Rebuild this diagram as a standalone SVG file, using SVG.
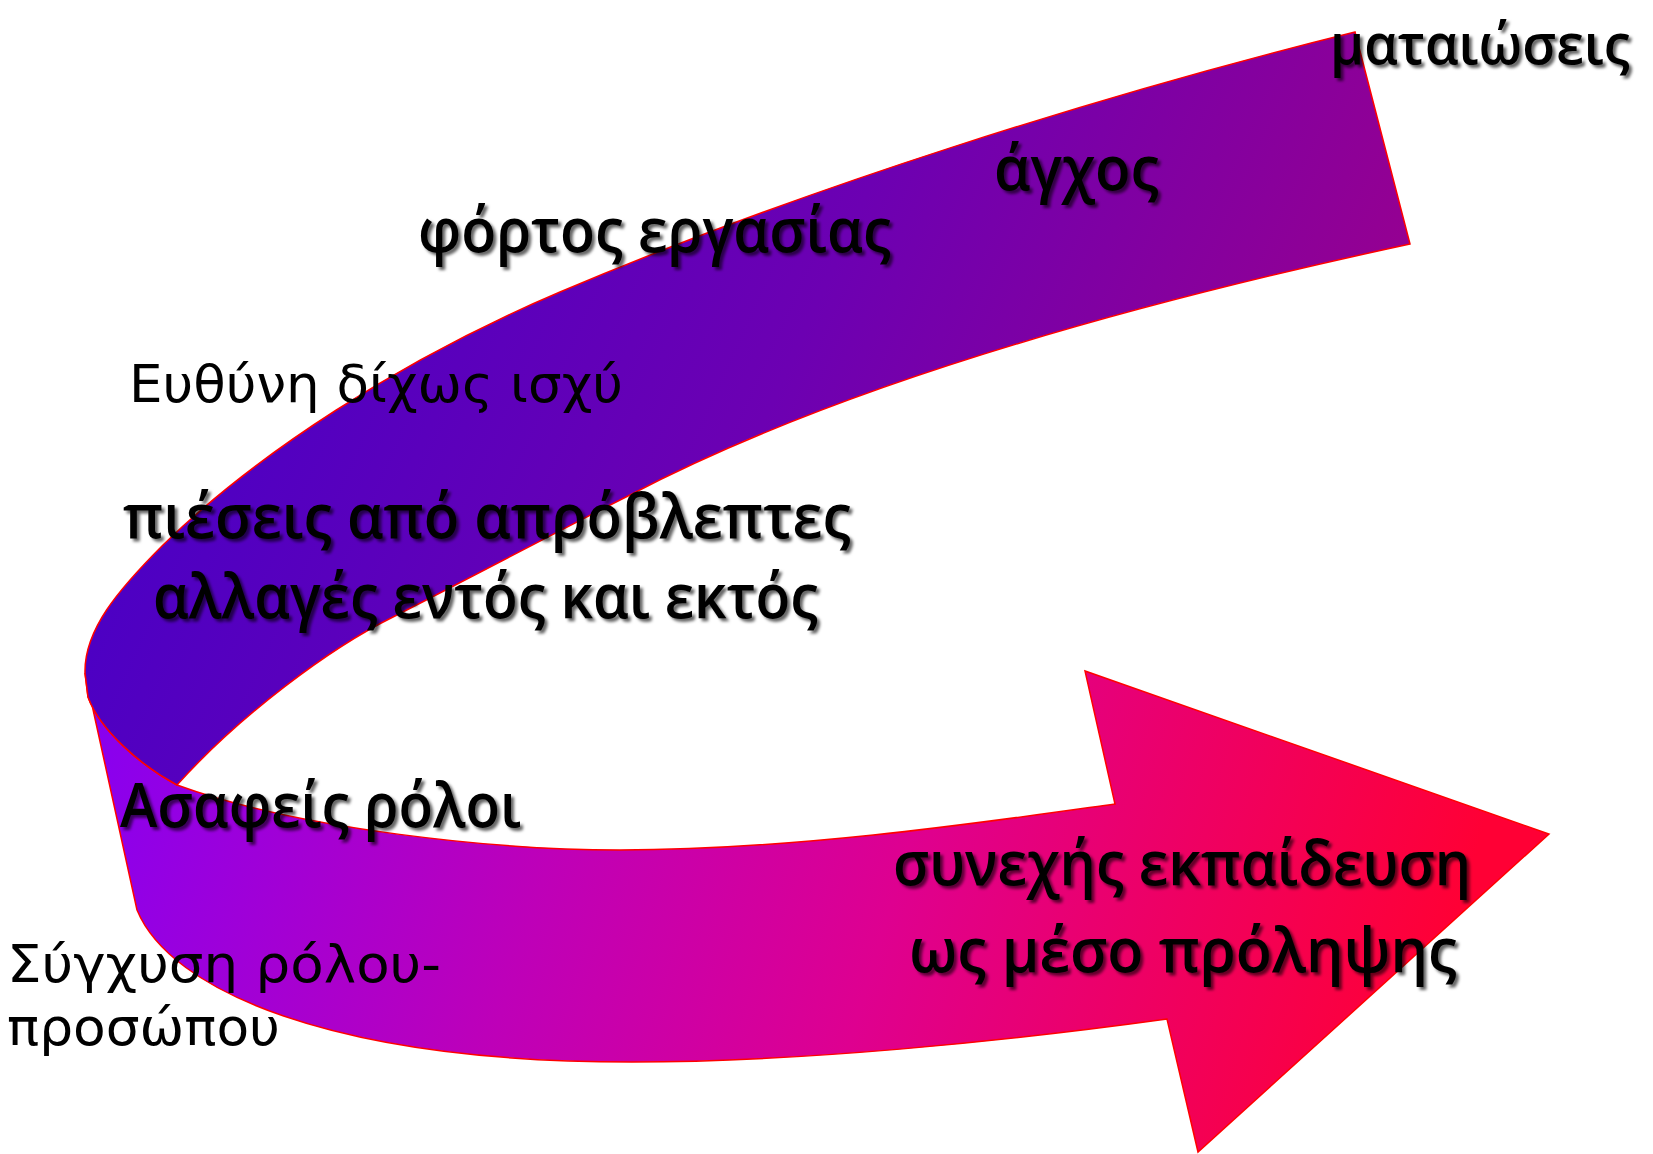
<svg xmlns="http://www.w3.org/2000/svg" width="1653" height="1154" viewBox="0 0 1653 1154">
<defs>
<linearGradient id="gBack" gradientUnits="userSpaceOnUse" x1="200" y1="200" x2="1300" y2="700">
<stop offset="0" stop-color="#4800c6"/>
<stop offset="0.5" stop-color="#6c00b2"/>
<stop offset="1" stop-color="#9c008c"/>
</linearGradient>
<linearGradient id="gFront" gradientUnits="userSpaceOnUse" x1="100" y1="700" x2="1400" y2="1100">
<stop offset="0" stop-color="#8800f0"/>
<stop offset="0.35" stop-color="#be00b8"/>
<stop offset="0.6" stop-color="#de0090"/>
<stop offset="1" stop-color="#ff0035"/>
</linearGradient>
<filter id="sh" x="-10%" y="-30%" width="120%" height="160%">
<feDropShadow dx="3" dy="3" stdDeviation="1.6" flood-color="#000" flood-opacity="0.6"/>
</filter>
<filter id="sh2" x="0%" y="0%" width="104%" height="112%">
<feDropShadow dx="3" dy="3" stdDeviation="1.6" flood-color="#000" flood-opacity="0.6"/>
</filter>
</defs>
<style>
.band{stroke:#ff0000;stroke-width:1.5;stroke-linejoin:miter}
.big{font-family:"Open Sans","DejaVu Sans",sans-serif;font-weight:600;font-size:62px;fill:#000;filter:url(#sh)}
.plain{font-family:"DejaVu Sans","Noto Sans",sans-serif;font-size:52px;fill:#000}
</style>
<rect width="1653" height="1154" fill="#fff"/>
<g id="connectors">
<path id="front-band" class="band" fill="url(#gFront)" d="M85,673 L137,910 C170,990 330,1062 632,1062 C800,1062 1000,1042 1167,1019 L1198,1152 L1549,834 L1085,671 L1115,804 C1000,820 800,850 620,850 C500,850 300,830 177,785 C140,765 100,730 88,697 Z"/>
<path id="back-band" class="band" fill="url(#gBack)" d="M1355,32 C1100,95 800,190 560,292 C400,360 255,455 163,545 C118,590 84,630 85,673 L88,697 C100,730 140,765 177,785 C240,715 330,648 393,617 C470,578 560,530 630,495 C850,380 1150,300 1410,244 Z"/>
</g>
<g id="n-mataioseis"><text class="big" x="1330" y="64" style="font-size:56px;filter:url(#sh2)" textLength="300" lengthAdjust="spacingAndGlyphs">ματαιώσεις</text></g>
<g id="n-agchos"><text class="big" x="994" y="190" textLength="165" lengthAdjust="spacingAndGlyphs">άγχος</text></g>
<g id="n-fortos"><text class="big" x="418" y="252" textLength="473" lengthAdjust="spacingAndGlyphs">φόρτος εργασίας</text></g>
<g id="n-eythyni"><text class="plain" x="129" y="402" textLength="494" lengthAdjust="spacingAndGlyphs">Ευθύνη δίχως ισχύ</text></g>
<g id="n-pieseis"><text class="big" x="123" y="538" textLength="728" lengthAdjust="spacingAndGlyphs">πιέσεις από απρόβλεπτες</text><text class="big" x="153" y="618" textLength="665" lengthAdjust="spacingAndGlyphs">αλλαγές εντός και εκτός</text></g>
<g id="n-asafeis"><text class="big" x="120" y="827" textLength="401" lengthAdjust="spacingAndGlyphs">Ασαφείς ρόλοι</text></g>
<g id="n-synexis"><text class="big" x="893" y="885" textLength="578" lengthAdjust="spacingAndGlyphs">συνεχής εκπαίδευση</text><text class="big" x="909" y="972" textLength="548" lengthAdjust="spacingAndGlyphs">ως μέσο πρόληψης</text></g>
<g id="n-sygxysi"><text class="plain" x="7" y="982" textLength="434" lengthAdjust="spacingAndGlyphs">Σύγχυση ρόλου-</text><text class="plain" x="7" y="1045" textLength="273" lengthAdjust="spacingAndGlyphs">προσώπου</text></g>
</svg>
